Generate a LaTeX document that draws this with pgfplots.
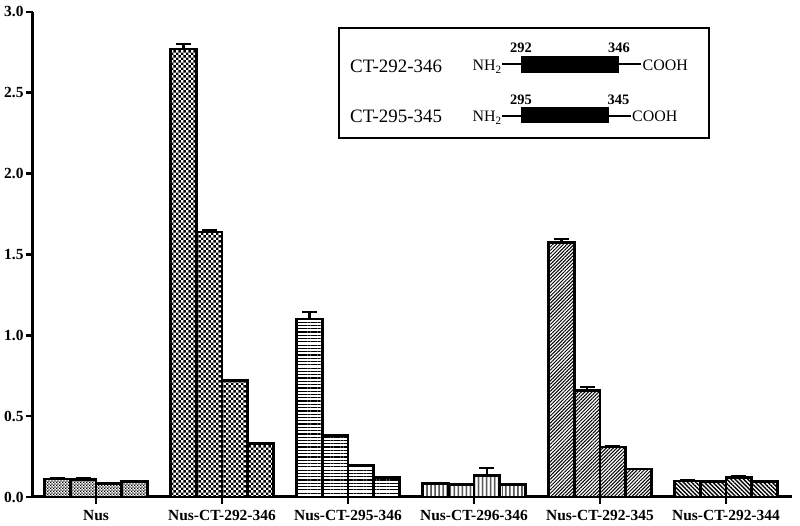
\documentclass[border=0pt]{standalone}
\usepackage{pgfplots}
\pgfplotsset{compat=1.18}
\usepackage{fontspec}
\setmainfont{Liberation Serif}
\usetikzlibrary{patterns,patterns.meta}

\tikzdeclarepattern{name=finecheck, type=uncolored, bounding box={(0,0) and (3.2pt,3.2pt)}, tile size={(3.2pt,3.2pt)},
  code={\fill (0,0) rectangle (1.6pt,1.6pt); \fill (1.6pt,1.6pt) rectangle (3.2pt,3.2pt);}}
\tikzdeclarepattern{name=bigcheck, type=uncolored, bounding box={(0,0) and (5.4pt,5.4pt)}, tile size={(5.4pt,5.4pt)},
  code={\fill (0,0) rectangle (2.7pt,2.7pt); \fill (2.7pt,2.7pt) rectangle (5.4pt,5.4pt);}}

\begin{document}
\begin{tikzpicture}
\begin{axis}[
  x=126bp, y=161.7bp,
  xmin=-0.5, xmax=5.52, ymin=0, ymax=3,
  axis x line=bottom, axis y line=left,
  axis line style={line width=3bp,-},
  xtick={0,1,2,3,4,5},
  xticklabels={Nus,Nus-CT-292-346,Nus-CT-295-346,Nus-CT-296-346,Nus-CT-292-345,Nus-CT-292-344},
  ytick={0,0.5,1,1.5,2,2.5,3},
  tick style={line width=2.5bp,black},
  major tick length=7bp,
  tick align=outside,
  ticklabel style={font=\bfseries\fontsize{15.5}{17}\selectfont},
  yticklabel style={xshift=1bp, /pgf/number format/.cd, fixed, fixed zerofill, precision=1, assume math mode=true},
  xticklabel style={yshift=-3bp},
  ybar, bar width=0.204, bar shift=0pt,
  every axis plot/.append style={draw=black, line width=2.5bp, fill=white},
  error bars/y dir=plus, error bars/y explicit,
  error bars/error bar style={line width=2.2bp, black},
  error bars/error mark options={line width=2.2bp, mark size=7.5bp, black, rotate=90},
  clip=false,
]
\coordinate (O) at (axis cs:0,0);
% Nus
\addplot[postaction={pattern=finecheck}] coordinates {
 (-0.306,0.110) +- (0,0.008) (-0.102,0.108) +- (0,0.006) (0.102,0.085) +- (0,0.004) (0.306,0.095) +- (0,0.005)};
% Nus-CT-292-346
\addplot[postaction={pattern=bigcheck}] coordinates {
 (0.694,2.770) +- (0,0.030) (0.898,1.640) +- (0,0.008) (1.102,0.720) +- (0,0.004) (1.306,0.330) +- (0,0.003)};
% Nus-CT-295-346
\addplot[postaction={pattern={Lines[angle=0, distance=3.3pt, line width=1.2pt]}}] coordinates {
 (1.694,1.100) +- (0,0.045) (1.898,0.380) +- (0,0.004) (2.102,0.195) +- (0,0.003) (2.306,0.120) +- (0,0.003)};
% Nus-CT-296-346
\addplot[postaction={pattern={Lines[angle=90, distance=4pt, line width=1.2pt]}}] coordinates {
 (2.694,0.085) +- (0,0.003) (2.898,0.076) +- (0,0.003) (3.102,0.132) +- (0,0.048) (3.306,0.076) +- (0,0.003)};
% Nus-CT-292-345
\addplot[postaction={pattern={Lines[angle=45, distance=2.5pt, line width=1pt]}}] coordinates {
 (3.694,1.575) +- (0,0.020) (3.898,0.660) +- (0,0.022) (4.102,0.310) +- (0,0.003) (4.306,0.172) +- (0,0.003)};
% Nus-CT-292-344
\addplot[postaction={pattern={Lines[angle=-45, distance=3pt, line width=1.4pt]}}] coordinates {
 (4.694,0.100) +- (0,0.004) (4.898,0.095) +- (0,0.004) (5.102,0.120) +- (0,0.010) (5.306,0.095) +- (0,0.003)};
\end{axis}
\begin{scope}[shift={(O)}, x=1bp, y=-1bp]
\path (-96,-497) (704,29);
\draw[line width=1.5bp] (243,-469) rectangle (613,-359);
\node[anchor=base west, inner sep=0pt, font=\fontsize{19}{21}\selectfont] at (254,-424) {CT-292-346};
\node[anchor=base west, inner sep=0pt, font=\fontsize{19}{21}\selectfont] at (254,-374) {CT-295-345};
% row 1
\node[anchor=base east, inner sep=0pt, font=\fontsize{16}{18}\selectfont] at (406,-426.5) {NH\textsubscript{2}};
\draw[line width=1.5bp] (406,-433) -- (545,-433);
\fill (425,-441.3) rectangle (523.3,-423.7);
\node[anchor=base west, inner sep=0pt, font=\fontsize{16}{18}\selectfont] at (546.5,-426.5) {COOH};
\node[anchor=base, inner sep=0pt, font=\bfseries\fontsize{14.5}{16}\selectfont] at (425,-444.3) {292};
\node[anchor=base, inner sep=0pt, font=\bfseries\fontsize{14.5}{16}\selectfont] at (523,-444.3) {346};
% row 2
\node[anchor=base east, inner sep=0pt, font=\fontsize{16}{18}\selectfont] at (406,-375.3) {NH\textsubscript{2}};
\draw[line width=1.5bp] (406,-381) -- (535,-381);
\fill (424.7,-390.3) rectangle (513.3,-373.7);
\node[anchor=base west, inner sep=0pt, font=\fontsize{16}{18}\selectfont] at (536,-375.3) {COOH};
\node[anchor=base, inner sep=0pt, font=\bfseries\fontsize{14.5}{16}\selectfont] at (425,-392) {295};
\node[anchor=base, inner sep=0pt, font=\bfseries\fontsize{14.5}{16}\selectfont] at (522.5,-392) {345};
\end{scope}
\end{tikzpicture}
\end{document}
